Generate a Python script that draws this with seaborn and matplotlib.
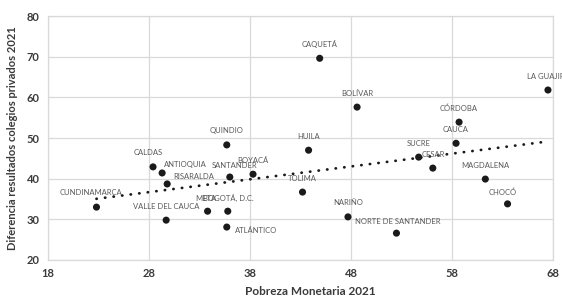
import numpy as np
import pandas as pd
import matplotlib
matplotlib.use("Agg")
import matplotlib.pyplot as plt
import seaborn as sns

# ─── Data ─────────────────────────────────────────────────────────────────────
DEPARTAMENTOS = [
    "CUNDINAMARCA", "CALDAS", "ANTIOQUIA", "RISARALDA", "VALLE DEL CAUCA",
    "META", "BOGOTÁ, D.C.", "ATLÁNTICO", "SANTANDER", "QUINDIO", "BOYACÁ",
    "HUILA", "TOLIMA", "CAQUETÁ", "BOLÍVAR", "NARIÑO", "NORTE DE SANTANDER",
    "SUCRE", "CESAR", "CÓRDOBA", "CAUCA", "MAGDALENA", "CHOCÓ", "LA GUAJIRA",
]
POBREZA = [
    22.8, 28.4, 29.3, 29.8, 29.7,
    33.8, 35.8, 35.7, 36.0, 35.7, 38.3,
    43.8, 43.2, 44.9, 48.6, 47.7, 52.5,
    54.7, 56.1, 58.7, 58.4, 61.3, 63.5, 67.5,
]
DIFERENCIA = [
    33.0, 42.9, 41.4, 38.7, 29.8,
    32.0, 32.0, 28.1, 40.4, 48.3, 41.1,
    47.0, 36.7, 69.6, 57.6, 30.6, 26.6,
    45.3, 42.6, 53.9, 48.7, 39.9, 33.8, 61.8,
]
X_TICKS = [18, 28, 38, 48, 58, 68]
Y_TICKS = [20, 30, 40, 50, 60, 70, 80]

# label offsets in pixels (dx, dy, ha) -- default is centred above the dot
LABEL_OFFSETS = {
    "CUNDINAMARCA": (-6, 15, "center"),
    "CALDAS": (-5, 14, "center"),
    "ANTIOQUIA": (2, 8, "left"),
    "RISARALDA": (6, 7, "left"),
    "SANTANDER": (5, 12, "center"),
    "META": (-2, 13, "center"),
    "BOGOTÁ, D.C.": (1, 13, "center"),
    "ATLÁNTICO": (8, -3, "left"),
    "NORTE DE SANTANDER": (1, 12, "center"),
    "CHOCÓ": (-5, 12, "center"),
}

df = pd.DataFrame({"dep": DEPARTAMENTOS, "pobreza": POBREZA, "dif": DIFERENCIA})

# ─── Plot ─────────────────────────────────────────────────────────────────────
sns.set_style("white")
plt.rcParams["font.family"] = ["Lato", "DejaVu Sans"]

fig = plt.figure(figsize=(5.62, 2.97), dpi=100)
ax = fig.add_axes([0.0854, 0.1246, 0.8986, 0.8215])

# dotted linear trend line
sns.regplot(data=df, x="pobreza", y="dif", scatter=False, ci=None, ax=ax,
            line_kws=dict(color="#1a1a1a", lw=2.0, ls=(0, (0.1, 3.0)),
                          dash_capstyle="round"))
sns.scatterplot(data=df, x="pobreza", y="dif", s=26, color="#1a1a1a",
                edgecolor="none", ax=ax, zorder=3)

for name, xv, yv in zip(DEPARTAMENTOS, POBREZA, DIFERENCIA):
    dx, dy, ha = LABEL_OFFSETS.get(name, (0, 14, "center"))
    ax.annotate(name, (xv, yv), xytext=(dx, dy), textcoords="offset pixels",
                ha=ha, va="center", fontsize=5.5, color="#595959",
                annotation_clip=False)

ax.set_xlim(X_TICKS[0], X_TICKS[-1])
ax.set_ylim(Y_TICKS[0], Y_TICKS[-1])
ax.set_xticks(X_TICKS)
ax.set_yticks(Y_TICKS)
ax.grid(True, color="#d9d9d9", lw=0.9)
for sp in ax.spines.values():
    sp.set_color("#d9d9d9")
    sp.set_linewidth(0.9)
ax.tick_params(length=0, labelsize=8, labelcolor="#3a3a3a", pad=6)
for lbl in ax.get_xticklabels() + ax.get_yticklabels():
    lbl.set_fontweight("bold")

ax.set_xlabel("Pobreza Monetaria 2021", fontsize=8.5, fontweight="bold",
              color="#3a3a3a")
ax.xaxis.set_label_coords(0.52, -0.105)
ax.set_ylabel("Diferencia resultados colegios privados 2021", fontsize=8,
              fontweight="bold", color="#3a3a3a", labelpad=6)

fig.savefig("out.png", dpi=100)
